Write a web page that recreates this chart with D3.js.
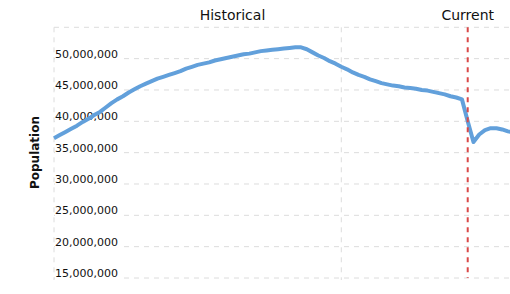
<!DOCTYPE html>
<html>
<head>
<meta charset="utf-8">
<script src="https://cdn.jsdelivr.net/npm/d3@7"></script>
<style>
  body { margin: 0; background: #fff; }
  text { font-family: "DejaVu Sans", Verdana, sans-serif; }
</style>
</head>
<body>
<div id="chart"></div>
<script>
// population in millions
var years = [];
for (var y = 1950; y <= 2030; y++) years.push(y);

var population = [
  37.3, 37.8, 38.3, 38.8, 39.3, 39.9, 40.4, 41.0, 41.5, 42.2,
  42.9, 43.5, 44.0, 44.6, 45.1, 45.6, 46.0, 46.4, 46.8, 47.1,
  47.4, 47.7, 48.0, 48.4, 48.7, 49.0, 49.2, 49.4, 49.7, 49.9,
  50.1, 50.3, 50.5, 50.7, 50.8, 51.0, 51.2, 51.3, 51.4, 51.5,
  51.6, 51.7, 51.8, 51.8, 51.5, 51.0, 50.5, 50.1, 49.6, 49.2,
  48.7, 48.3, 47.8, 47.4, 47.1, 46.7, 46.4, 46.1, 45.9, 45.7,
  45.6, 45.4, 45.3, 45.2, 45.0, 44.9, 44.7, 44.5, 44.3, 44.0,
  43.8, 43.5, 40.0, 36.7, 37.9, 38.6, 38.9, 38.9, 38.7, 38.4,
  38.2
];

var yTicks = [15e6, 20e6, 25e6, 30e6, 35e6, 40e6, 45e6, 50e6];
var yGrid = [15e6, 20e6, 25e6, 30e6, 35e6, 40e6, 45e6, 50e6, 55e6];
var xGrid = [1950, 2000, 2050];
var currentYear = 2022;

var width = 510, height = 294;

var svg = d3.select("#chart").append("svg")
  .attr("width", width)
  .attr("height", height);

var x = d3.scaleLinear().domain([1950, 2000]).range([54, 341.3]);
var yScale = d3.scaleLinear().domain([15e6, 55e6]).range([278, 27.3]);

var plotTop = yScale(55e6), plotBottom = yScale(15e6);

// grid
svg.append("g").selectAll("line.h")
  .data(yGrid)
  .enter().append("line")
  .attr("x1", 54).attr("x2", width)
  .attr("y1", function(d) { return yScale(d); })
  .attr("y2", function(d) { return yScale(d); })
  .attr("stroke", "#dcdcdc")
  .attr("stroke-width", 1)
  .attr("stroke-dasharray", "5,5");

svg.append("g").selectAll("line.v")
  .data(xGrid)
  .enter().append("line")
  .attr("x1", function(d) { return x(d); })
  .attr("x2", function(d) { return x(d); })
  .attr("y1", plotTop).attr("y2", plotBottom + 2)
  .attr("stroke", "#dcdcdc")
  .attr("stroke-width", 1)
  .attr("stroke-dasharray", "5,5");

// tick labels sit on top of the gridlines
var fmt = d3.format(",");
var lbl = svg.append("g").selectAll("g")
  .data(yTicks)
  .enter().append("g")
  .attr("transform", function(d) { return "translate(55," + (yScale(d) - 1) + ")"; });

lbl.append("rect")
  .attr("x", 0).attr("y", -11).attr("width", 66).attr("height", 13)
  .attr("fill", "#fff");

lbl.append("text")
  .attr("x", 0).attr("y", 0)
  .attr("font-size", 11)
  .attr("fill", "#111")
  .text(function(d) { return fmt(d); });

// population line
var line = d3.line()
  .x(function(d, i) { return x(years[i]); })
  .y(function(d) { return yScale(d * 1e6); });

svg.append("path")
  .datum(population)
  .attr("d", line)
  .attr("fill", "none")
  .attr("stroke", "#62a0db")
  .attr("stroke-width", 4)
  .attr("stroke-linejoin", "round");

// current marker
svg.append("line")
  .attr("x1", x(currentYear)).attr("x2", x(currentYear))
  .attr("y1", plotTop).attr("y2", plotBottom)
  .attr("stroke", "#d94848")
  .attr("stroke-width", 2)
  .attr("stroke-dasharray", "5,5");

svg.append("text")
  .attr("x", x(currentYear)).attr("y", 20)
  .attr("text-anchor", "middle")
  .attr("font-size", 14)
  .attr("fill", "#111")
  .text("Current");

svg.append("text")
  .attr("x", 232.5).attr("y", 20)
  .attr("text-anchor", "middle")
  .attr("font-size", 14)
  .attr("fill", "#111")
  .text("Historical");

svg.append("text")
  .attr("transform", "translate(38.5,152.5) rotate(-90)")
  .attr("text-anchor", "middle")
  .attr("font-size", 12)
  .attr("font-weight", "bold")
  .attr("fill", "#111")
  .text("Population");
</script>
</body>
</html>
